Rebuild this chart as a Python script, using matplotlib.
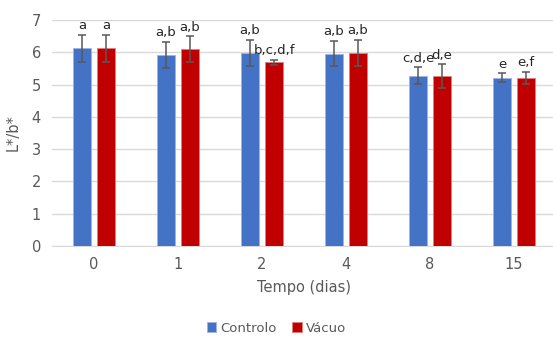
import matplotlib

matplotlib.use("Agg")
import matplotlib.pyplot as plt
import numpy as np

# L*/b* ratio over storage time, control vs vacuum packed
days = ["0", "1", "2", "4", "8", "15"]
controlo = [6.12, 5.92, 5.98, 5.96, 5.28, 5.21]
controlo_sd = [0.42, 0.41, 0.40, 0.40, 0.26, 0.14]
vacuo = [6.12, 6.10, 5.69, 5.99, 5.26, 5.21]
vacuo_sd = [0.42, 0.39, 0.07, 0.40, 0.37, 0.19]
letters_controlo = ["a", "a,b", "a,b", "a,b", "c,d,e", "e"]
letters_vacuo = ["a", "a,b", "b,c,d,f", "a,b", "d,e", "e,f"]

BLUE = "#4472C4"
RED = "#C00000"
GREY = "#595959"

plt.rcParams["font.family"] = ["DejaVu Sans"]

fig = plt.figure(figsize=(5.53, 3.38), dpi=100)
ax = fig.add_axes([52 / 553, 92 / 338, 504 / 553, 226 / 338])

x = np.arange(len(days))
w = 0.22
off = 0.143
err_kw = dict(ecolor=GREY, elinewidth=1.1, capsize=3, capthick=1.1)
ax.bar(x - off, controlo, w, color=BLUE, edgecolor="#9DB4E0", linewidth=0.6,
       yerr=controlo_sd, error_kw=err_kw, label="Controlo", zorder=3)
ax.bar(x + off, vacuo, w, color=RED, edgecolor="#E08080", linewidth=0.6,
       yerr=vacuo_sd, error_kw=err_kw, label="Vácuo", zorder=3)

for xi, v, sd, t in zip(x - off, controlo, controlo_sd, letters_controlo):
    ax.text(xi, v + sd + 0.08, t, ha="center", va="bottom", fontsize=9.5, color="#262626")
for xi, v, sd, t in zip(x + off, vacuo, vacuo_sd, letters_vacuo):
    ax.text(xi, v + sd + 0.08, t, ha="center", va="bottom", fontsize=9.5, color="#262626")

ax.set_xlim(-0.5, 5.5)
ax.set_ylim(0, 7)
ax.set_yticks(range(8))
ax.set_xticks(x)
ax.set_xticklabels(days)
ax.yaxis.grid(True, color="#D9D9D9", linewidth=1, zorder=0)
ax.set_axisbelow(True)
for s in ["top", "right", "left"]:
    ax.spines[s].set_visible(False)
ax.spines["bottom"].set_color("#D9D9D9")
ax.tick_params(axis="both", length=0, colors=GREY, labelsize=10.5)
ax.tick_params(axis="x", pad=8)
ax.tick_params(axis="y", pad=8)
ax.set_xlabel("Tempo (dias)", fontsize=10.5, color=GREY, labelpad=6)
ax.set_ylabel("L*/b*", fontsize=10.5, color=GREY, labelpad=8)

fig.legend(loc="lower center", bbox_to_anchor=(0.5, -0.025), ncol=2, frameon=False,
           fontsize=9.5, labelcolor=GREY, handlelength=0.7, handleheight=0.7,
           handletextpad=0.3, columnspacing=1.2)

fig.savefig("out.png", dpi=100)
